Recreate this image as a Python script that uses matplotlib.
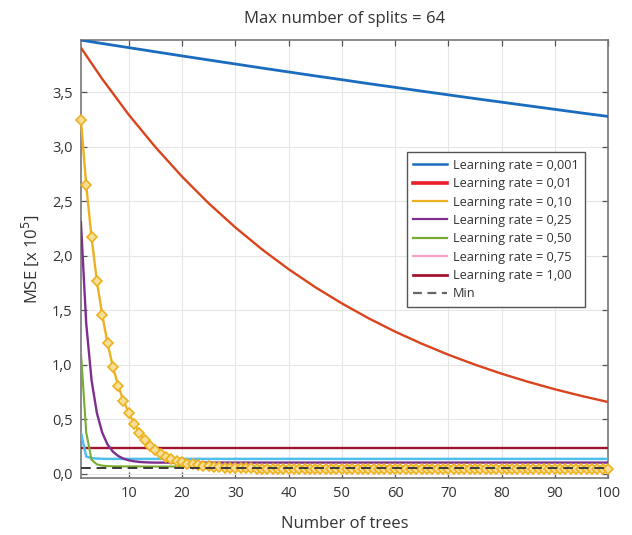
import matplotlib
matplotlib.use("Agg")
import matplotlib.pyplot as plt
from matplotlib.lines import Line2D
from matplotlib.ticker import FuncFormatter

# ---------------- data ----------------
trees = list(range(1, 101))

coarse_x = [1, 5, 10, 15, 20, 25, 30, 35, 40, 45, 50, 55, 60, 65, 70, 75, 80, 85, 90, 95, 100]
lr_0001 = [3.98, 3.949, 3.911, 3.873, 3.835, 3.798, 3.761, 3.724, 3.688, 3.652, 3.617,
           3.581, 3.547, 3.512, 3.478, 3.444, 3.411, 3.378, 3.345, 3.312, 3.28]
lr_001 = [3.911, 3.624, 3.295, 2.998, 2.728, 2.483, 2.262, 2.061, 1.879, 1.714, 1.565,
          1.429, 1.306, 1.195, 1.094, 1.003, 0.920, 0.845, 0.777, 0.716, 0.660]

lr_010 = [3.25, 2.65, 2.17, 1.77, 1.46, 1.20, 0.985, 0.81, 0.67, 0.56,
          0.46, 0.38, 0.31, 0.26, 0.22, 0.185, 0.16, 0.138, 0.12, 0.105,
          0.095, 0.087, 0.080, 0.074, 0.069, 0.065, 0.061, 0.058, 0.056, 0.054,
          0.052, 0.051, 0.050, 0.049, 0.048, 0.048, 0.047, 0.047, 0.046, 0.046,
          0.046, 0.045, 0.046, 0.045, 0.045, 0.046, 0.045, 0.045, 0.044, 0.045,
          0.045, 0.044, 0.045, 0.045, 0.044, 0.045, 0.044, 0.045, 0.045, 0.044,
          0.045, 0.044, 0.045, 0.044, 0.045, 0.045, 0.044, 0.045, 0.044, 0.045,
          0.044, 0.045, 0.045, 0.044, 0.045, 0.044, 0.045, 0.044, 0.045, 0.045,
          0.044, 0.045, 0.044, 0.045, 0.045, 0.044, 0.045, 0.044, 0.045, 0.044,
          0.045, 0.045, 0.044, 0.045, 0.044, 0.045, 0.045, 0.044, 0.045, 0.046]

fine_x = [1, 2, 3, 4, 5, 6, 7, 8, 9, 10, 11, 12, 13, 14, 15, 20, 30, 40, 50, 60, 70, 80, 90, 100]
lr_025 = [2.31, 1.38, 0.86, 0.56, 0.38, 0.27, 0.205, 0.165, 0.14, 0.125, 0.116, 0.11,
          0.107, 0.105, 0.104, 0.104, 0.104, 0.104, 0.104, 0.104, 0.104, 0.104, 0.104, 0.104]
lr_050 = [1.12, 0.38, 0.13, 0.088, 0.076, 0.072, 0.070, 0.070, 0.069, 0.069, 0.069, 0.069,
          0.068, 0.068, 0.068, 0.068, 0.068, 0.068, 0.068, 0.068, 0.068, 0.068, 0.068, 0.068]
lr_075 = [0.38, 0.16, 0.145, 0.141, 0.139, 0.138, 0.138, 0.138, 0.138, 0.138, 0.138, 0.138,
          0.138, 0.138, 0.138, 0.138, 0.138, 0.138, 0.138, 0.138, 0.138, 0.138, 0.138, 0.138]
lr_100 = [0.236, 0.236, 0.236, 0.236, 0.236, 0.236, 0.236, 0.236, 0.236, 0.236, 0.236, 0.236,
          0.236, 0.236, 0.236, 0.236, 0.236, 0.236, 0.236, 0.236, 0.236, 0.236, 0.236, 0.236]
min_x = [1, 100]
min_val = [0.05, 0.05]

legend_labels = ["Learning rate = 0,001", "Learning rate = 0,01", "Learning rate = 0,10",
                 "Learning rate = 0,25", "Learning rate = 0,50", "Learning rate = 0,75",
                 "Learning rate = 1,00", "Min"]

# ---------------- plot ----------------
plt.rcParams['font.family'] = ['Open Sans', 'DejaVu Sans']
fig = plt.figure(figsize=(6.32, 5.35), dpi=100)
ax = fig.add_axes([0.128, 0.107, 0.834, 0.818])

c_blue = "#1a6cbf"
c_red = "#d9441c"
c_yel = "#edb120"
c_pur = "#7e2f8e"
c_grn = "#77ac30"
c_cyn = "#4dbeee"
c_drd = "#a2142f"
c_min = "#3a3a3a"

ax.plot(coarse_x, lr_0001, color=c_blue, lw=2.0, zorder=3)
ax.plot(coarse_x, lr_001, color=c_red, lw=1.7, zorder=3)
ax.plot(fine_x, lr_100, color=c_drd, lw=1.7, zorder=3)
ax.plot(fine_x, lr_075, color=c_cyn, lw=1.8, zorder=3)
ax.plot(fine_x, lr_025, color=c_pur, lw=1.7, zorder=3)
ax.plot(fine_x, lr_050, color=c_grn, lw=1.5, zorder=3)
ax.plot(trees, lr_010, color=c_yel, lw=1.7, marker="D", markersize=5.5,
        markerfacecolor="#f8df98", markeredgecolor=c_yel, markeredgewidth=1.2, zorder=4,
        clip_on=False)
ax.plot(min_x, min_val, color=c_min, lw=1.4, ls=(0, (5, 3)), zorder=5)

ax.set_xlim(1, 100)
ax.set_ylim(-0.035, 3.98)
ax.set_xticks([10, 20, 30, 40, 50, 60, 70, 80, 90, 100])
ax.set_yticks([0, 0.5, 1.0, 1.5, 2.0, 2.5, 3.0, 3.5])
ax.yaxis.set_major_formatter(FuncFormatter(lambda v, p: f"{v:.1f}".replace(".", ",")))

ax.grid(True, color="#e6e6e6", lw=0.8)
ax.set_axisbelow(True)
ax.tick_params(direction="in", length=4, width=0.9, color="#555555",
               labelsize=10.5, labelcolor="#333333", top=True, right=True, pad=6)
for s in ax.spines.values():
    s.set_color("#777777")
    s.set_linewidth(1.2)

ax.set_xlabel("Number of trees", fontsize=12, color="#333333", labelpad=11)
ax.set_ylabel("MSE [x 10$^5$]", fontsize=12, color="#333333", labelpad=8)
ax.set_title("Max number of splits = 64", fontsize=12, color="#333333", pad=12)

handles = [
    Line2D([], [], color=c_blue, lw=1.8),
    Line2D([], [], color="#e8202a", lw=2.6),
    Line2D([], [], color=c_yel, lw=1.6),
    Line2D([], [], color=c_pur, lw=1.6),
    Line2D([], [], color=c_grn, lw=1.6),
    Line2D([], [], color="#f5a3c7", lw=1.6),
    Line2D([], [], color=c_drd, lw=2.0),
    Line2D([], [], color="#666666", lw=1.6, ls=(0, (4, 2.5))),
]
leg = ax.legend(handles, legend_labels, loc="upper right", bbox_to_anchor=(0.969, 0.758),
                fontsize=9.2, frameon=True, fancybox=False, handlelength=2.6,
                handletextpad=0.5, borderpad=0.5, labelspacing=0.42, framealpha=1)
leg.get_frame().set_edgecolor("#555555")
leg.get_frame().set_linewidth(1.0)
for t in leg.get_texts():
    t.set_color("#333333")

fig.savefig("out.png", dpi=100)
